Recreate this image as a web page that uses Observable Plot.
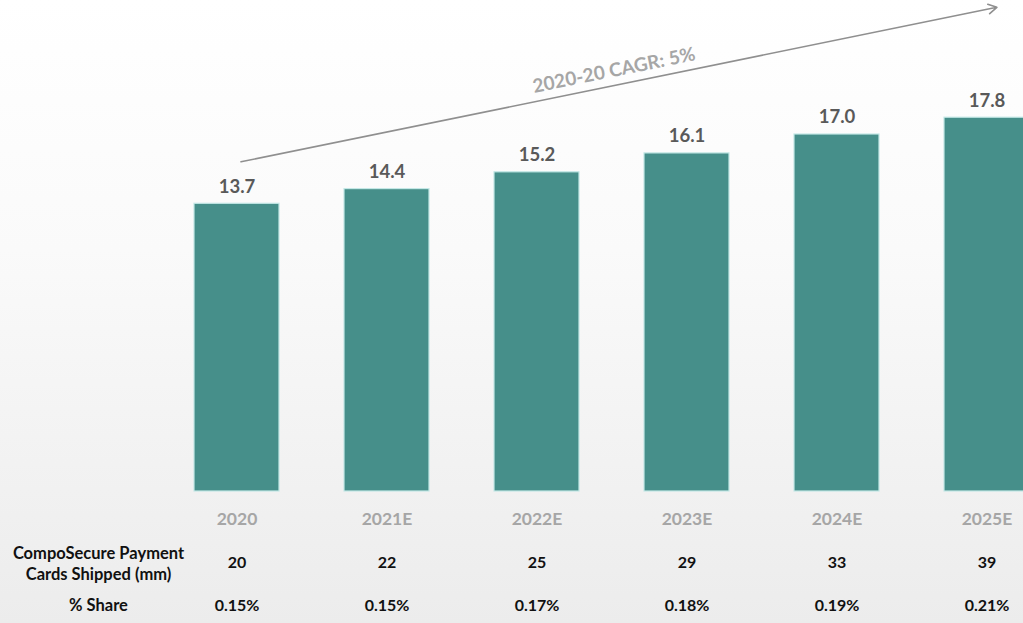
<!DOCTYPE html>
<html>
<head>
<meta charset="utf-8">
<script src="https://cdn.jsdelivr.net/npm/d3@7"></script>
<script src="https://cdn.jsdelivr.net/npm/@observablehq/plot@0.6"></script>
<style>
  html, body { margin: 0; padding: 0; overflow: hidden; width: 1023px; height: 623px; }
  body { background: linear-gradient(180deg, #ffffff 0%, #fafafa 40%, #ececec 100%); font-family: Lato, "Open Sans", sans-serif; }
  #chart svg { display: block; background: transparent; }
</style>
</head>
<body>
<div id="chart"></div>
<script>
// Data
const years = ["2020", "2021E", "2022E", "2023E", "2024E", "2025E"];
const marketValues = [13.7, 14.4, 15.2, 16.1, 17.0, 17.8];
const cardsShipped = ["20", "22", "25", "29", "33", "39"];
const shareLabels = ["0.15%", "0.15%", "0.17%", "0.18%", "0.19%", "0.21%"];
const rowLabels = ["CompoSecure Payment\nCards Shipped (mm)", "% Share"];
const cagrLabel = "2020-20 CAGR: 5%";
// CAGR arrow annotation (start and end in data units)
const arrowFrom = {year: "2020", value: 15.7};
const arrowTo = {year: "2025E", value: 23.0};

const rows = years.map((y, i) => ({year: y, value: marketValues[i], cards: cardsShipped[i], share: shareLabels[i]}));

const W = 1023, H = 623;
const font = "Lato, 'Open Sans', sans-serif";

const chart = Plot.plot({
  width: W,
  height: H,
  marginTop: 71,
  marginBottom: 132,
  marginLeft: 0,
  marginRight: 0,
  style: {background: "transparent", fontFamily: font, overflow: "visible"},
  x: {domain: years, range: [161.5, 1061.5], paddingInner: 0.433, paddingOuter: 0.2165, axis: null},
  y: {domain: [0, 20], axis: null},
  marks: [
    Plot.barY(rows, {x: "year", y: "value", fill: "#468f8a", stroke: "#c4e8e6", strokeWidth: 1.2}),
    Plot.text(rows, {x: "year", y: "value", text: d => d.value.toFixed(1), dy: -17, fontSize: 18.5, fontWeight: "bold", fill: "#595959"}),
    // year labels
    Plot.text(rows, {x: "year", text: "year", frameAnchor: "bottom", lineAnchor: "middle", dy: 28, fontSize: 17.5, fontWeight: "bold", fill: "#a6a6a6"}),
    // table rows
    Plot.text(rows, {x: "year", text: "cards", frameAnchor: "bottom", lineAnchor: "middle", dy: 71, fontSize: 16, fontWeight: "bold", fill: "#111"}),
    Plot.text(rows, {x: "year", text: "share", frameAnchor: "bottom", lineAnchor: "middle", dy: 114, fontSize: 16, fontWeight: "bold", fill: "#111"}),
    Plot.text([rowLabels[0]], {frameAnchor: "bottom-left", lineAnchor: "middle", dx: 98, dy: 71, text: d => d, textAnchor: "middle", lineHeight: 1.3, fontSize: 16.5, fontWeight: "bold", fill: "#111"}),
    Plot.text([rowLabels[1]], {frameAnchor: "bottom-left", lineAnchor: "middle", dx: 98, dy: 114, text: d => d, textAnchor: "middle", fontSize: 16.5, fontWeight: "bold", fill: "#111"}),
    // CAGR arrow
    Plot.arrow([{a: arrowFrom, b: arrowTo}], {
      x1: d => d.a.year, y1: d => d.a.value, x2: d => d.b.year, y2: d => d.b.value,
      dx: 4, insetEnd: -6, stroke: "#8f8f8f", strokeWidth: 1.6, headLength: 9, bend: 0
    }),
    Plot.text([cagrLabel], {x: () => "2022E", y: () => 20, dx: 77, dy: -1, text: d => d, rotate: -11.5, fontSize: 19, fontWeight: "bold", fill: "#a6a6a6"})
  ]
});

document.getElementById("chart").append(chart);
</script>
</body>
</html>
